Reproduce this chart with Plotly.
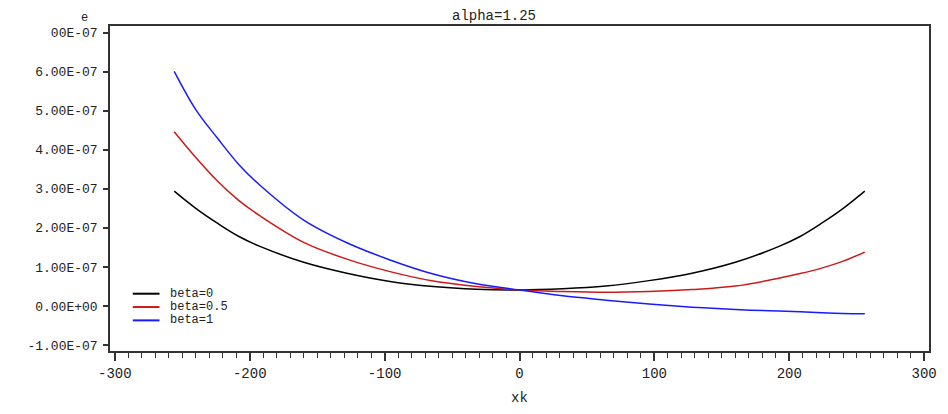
import plotly.graph_objects as go

# ---- data (values in units of 1e-7) ----
xk = [-256, -240, -224, -208, -192, -160, -128, -96, -64, -32, 0,
      32, 64, 96, 128, 160, 192, 208, 224, 240, 256]
e_beta0 = [2.94, 2.50, 2.12, 1.78, 1.52, 1.12, 0.84, 0.63, 0.50, 0.43, 0.41,
           0.44, 0.51, 0.65, 0.84, 1.12, 1.52, 1.78, 2.12, 2.50, 2.94]
e_beta05 = [4.46, 3.80, 3.20, 2.70, 2.30, 1.63, 1.20, 0.88, 0.64, 0.50, 0.41,
            0.37, 0.35, 0.37, 0.42, 0.51, 0.71, 0.83, 0.97, 1.15, 1.38]
e_beta1 = [6.01, 5.03, 4.30, 3.62, 3.08, 2.20, 1.62, 1.18, 0.82, 0.57, 0.41,
           0.26, 0.15, 0.05, -0.03, -0.09, -0.13, -0.15, -0.17, -0.19, -0.20]
scale = 1e-7

series_names = ["beta=0", "beta=0.5", "beta=1"]
series_colors = ["#000000", "#cc1a1a", "#1a1aff"]

x_tickvals = [-300, -200, -100, 0, 100, 200, 300]
x_ticktext = ["-300", "-200", "-100", "0", "100", "200", "300"]
y_tickvals = [-1e-7, 0, 1e-7, 2e-7, 3e-7, 4e-7, 5e-7, 6e-7, 7e-7]
y_ticktext = ["-1.00E-07", "0.00E+00", "1.00E-07", "2.00E-07", "3.00E-07",
              "4.00E-07", "5.00E-07", "6.00E-07", "00E-07"]

title_text = "alpha=1.25"
x_title = "xk"
y_title = "e"

FONT = "Liberation Mono, DejaVu Sans Mono, monospace"
TXT = "#222222"
FS = 14

W, H = 948, 414
ML, MR, MT, MB = 110, 11, 26, 59
PW = W - ML - MR
PH = H - MT - MB


def px_x(sx):
    return (sx - ML) / PW


def px_y(sy):
    return (MT + PH - sy) / PH


fig = go.Figure()
for name, vals, col in zip(series_names, [e_beta0, e_beta05, e_beta1], series_colors):
    fig.add_trace(go.Scatter(
        x=xk, y=[v * scale for v in vals], mode="lines", name=name,
        line=dict(color=col, width=1.5, shape="spline", smoothing=1.0),
        showlegend=False,
    ))

# compact legend drawn as decorations (in paper space)
leg_rows = [px_y(297), px_y(310.5), px_y(324)]
shapes = []
annotations = []
for name, col, yy in zip(series_names, series_colors, leg_rows):
    shapes.append(dict(type="line", xref="paper", yref="paper", x0=px_x(133), x1=px_x(160),
                       y0=yy, y1=yy, line=dict(color=col, width=2)))
    annotations.append(dict(text=name, xref="paper", yref="paper", x=px_x(169), y=yy,
                            xanchor="left", yanchor="middle", showarrow=False,
                            font=dict(family=FONT, size=12, color=TXT)))

annotations.append(dict(text=title_text, xref="paper", yref="paper",
                        x=px_x(498), y=px_y(16), yanchor="middle",
                        showarrow=False, font=dict(family=FONT, size=FS, color=TXT)))
annotations.append(dict(text=y_title, xref="paper", yref="paper",
                        x=px_x(84), y=px_y(18), xanchor="center", yanchor="middle",
                        showarrow=False, font=dict(family=FONT, size=12, color=TXT)))

fig.update_layout(
    width=W, height=H,
    margin=dict(l=ML, r=MR, t=MT, b=MB),
    paper_bgcolor="white", plot_bgcolor="white",
    font=dict(family=FONT, size=FS, color=TXT),
    showlegend=False,
    shapes=shapes,
    annotations=annotations,
)

fig.update_xaxes(
    range=[-303.6, 303.6],
    tickmode="array", tickvals=x_tickvals, ticktext=x_ticktext,
    ticks="outside", ticklen=8, tickwidth=1.5, tickcolor="#333333",
    minor=dict(dtick=10, ticks="outside", ticklen=5, tickwidth=1.2, tickcolor="#333333"),
    showline=True, linecolor="#333333", linewidth=1.5, mirror=True,
    showgrid=False, zeroline=False,
    title=dict(text=x_title, standoff=12, font=dict(family=FONT, size=FS)),
    tickfont=dict(family=FONT, size=FS),
)
fig.update_yaxes(
    range=[-1.152e-7, 7.17e-7],
    tickmode="array", tickvals=y_tickvals, ticktext=y_ticktext,
    ticks="outside", ticklen=5, tickwidth=1.5, tickcolor="#333333",
    ticklabelstandoff=3,
    showline=True, linecolor="#333333", linewidth=1.5, mirror=True,
    showgrid=False, zeroline=False,
    tickfont=dict(family=FONT, size=13),
)

# remove the default page margin so the figure sits at the window's top-left corner
fig.write_html(
    "out.html",
    config={"displayModeBar": False},
    post_script="document.body.style.margin='0';document.body.style.overflow='hidden';",
)
